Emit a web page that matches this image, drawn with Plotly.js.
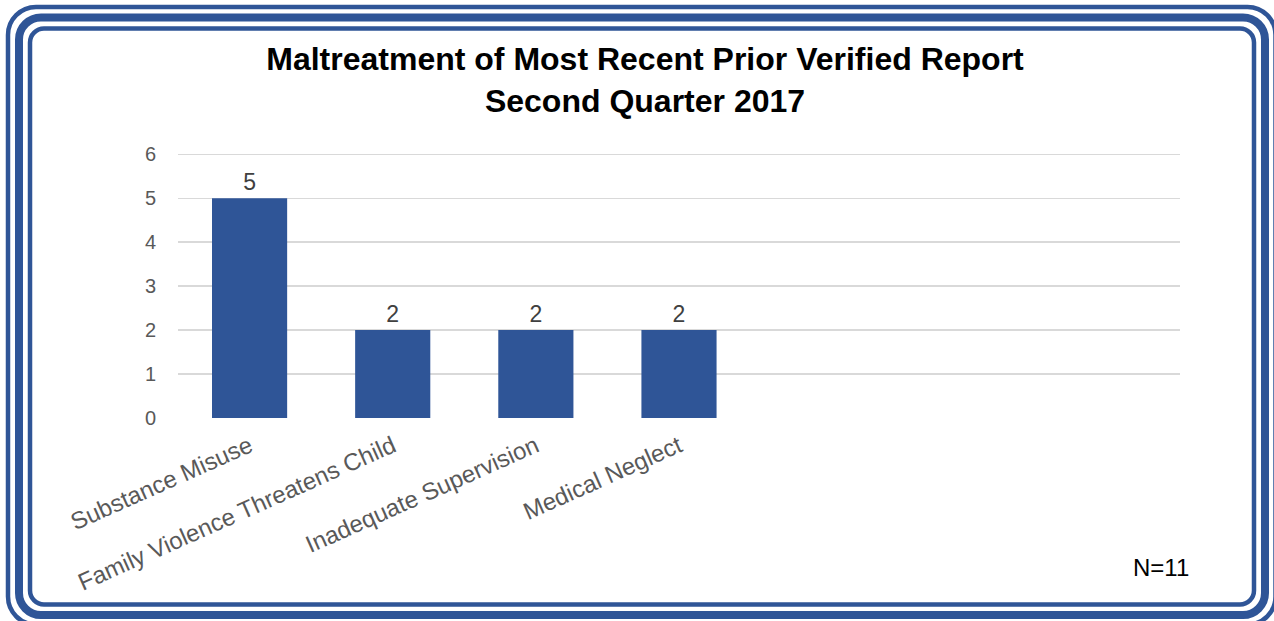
<!DOCTYPE html>
<html>
<head>
<meta charset="utf-8">
<script src="https://cdn.plot.ly/plotly-3.0.1.min.js"></script>
<style>html,body{margin:0;padding:0;background:#fff;}#chart{width:1274px;height:621px;}</style>
</head>
<body>
<div id="chart"></div>
<script>
const categories = ["Substance Misuse", "Family Violence Threatens Child", "Inadequate Supervision", "Medical Neglect"];
const counts = [5, 2, 2, 2];
const yTicks = [0, 1, 2, 3, 4, 5, 6];
const titleLine1 = "Maltreatment of Most Recent Prior Verified Report";
const titleLine2 = "Second Quarter 2017";
const noteText = "N=11";

const W = 1274, H = 621;
const M = {l: 178, r: 94, t: 152, b: 203};
const PW = W - M.l - M.r, PH = H - M.t - M.b;
const BLUE = "#2F5597";

function P(x, y) {
  return ((x - M.l) / PW).toFixed(5) + "," + ((H - M.b - y) / PH).toFixed(5);
}
function roundRect(x0, y0, x1, y1, r) {
  const k = 0.5523 * r;
  return "M" + P(x0 + r, y0) +
    " L" + P(x1 - r, y0) +
    " C" + P(x1 - r + k, y0) + " " + P(x1, y0 + r - k) + " " + P(x1, y0 + r) +
    " L" + P(x1, y1 - r) +
    " C" + P(x1, y1 - r + k) + " " + P(x1 - r + k, y1) + " " + P(x1 - r, y1) +
    " L" + P(x0 + r, y1) +
    " C" + P(x0 + r - k, y1) + " " + P(x0, y1 - r + k) + " " + P(x0, y1 - r) +
    " L" + P(x0, y0 + r) +
    " C" + P(x0, y0 + r - k) + " " + P(x0 + r - k, y0) + " " + P(x0 + r, y0) + " Z";
}
function frame(x0, y0, x1, y1, r, w) {
  return {type: "path", xref: "paper", yref: "paper", path: roundRect(x0, y0, x1, y1, r),
          line: {color: BLUE, width: w}, fillcolor: "rgba(0,0,0,0)", layer: "above"};
}

const trace = {
  type: "bar",
  x: categories,
  y: counts,
  marker: {color: BLUE},
  text: counts.map(String),
  textposition: "outside",
  textfont: {family: "Liberation Sans, Arial, sans-serif", size: 23, color: "#404040"},
  cliponaxis: false,
  hoverinfo: "none"
};

const layout = {
  width: W, height: H,
  margin: M,
  paper_bgcolor: "#ffffff",
  plot_bgcolor: "#ffffff",
  showlegend: false,
  bargap: 0.475,
  font: {family: "Liberation Sans, Arial, sans-serif", color: "#595959"},
  title: {
    text: "<b>" + titleLine1 + "</b><br><b>" + titleLine2 + "</b>",
    font: {family: "Liberation Sans, Arial, sans-serif", size: 32, color: "#000000"},
    xref: "container", x: 645 / W, xanchor: "center",
    yref: "container", y: 1 - 70 / H, yanchor: "top"
  },
  xaxis: {
    type: "category",
    range: [-0.5, 6.5],
    showgrid: false,
    zeroline: false,
    showline: false,
    ticks: "outside",
    ticklen: 4,
    tickcolor: "rgba(0,0,0,0)",
    tickangle: -24,
    tickfont: {size: 24, color: "#595959"},
    automargin: false
  },
  yaxis: {
    range: [0, 6.05],
    tickvals: yTicks,
    showgrid: true,
    gridcolor: "#D9D9D9",
    gridwidth: 1.3,
    zeroline: false,
    showline: false,
    ticks: "outside",
    ticklen: 17,
    tickcolor: "rgba(0,0,0,0)",
    tickfont: {size: 20, color: "#595959"},
    automargin: false
  },
  shapes: [
    frame(8, 7, 1275.5, 624.5, 28, 4.5),
    frame(19, 17.5, 1265, 615, 22, 8),
    frame(30, 28.5, 1254, 604.5, 14, 4.5)
  ],
  annotations: [{
    text: noteText, xref: "paper", yref: "paper",
    x: (1161 - M.l) / PW, y: (H - M.b - 567) / PH,
    xanchor: "center", yanchor: "middle", showarrow: false,
    font: {family: "Liberation Sans, Arial, sans-serif", size: 24, color: "#000000"}
  }]
};

Plotly.newPlot("chart", [trace], layout, {displayModeBar: false, staticPlot: true});
</script>
</body>
</html>
